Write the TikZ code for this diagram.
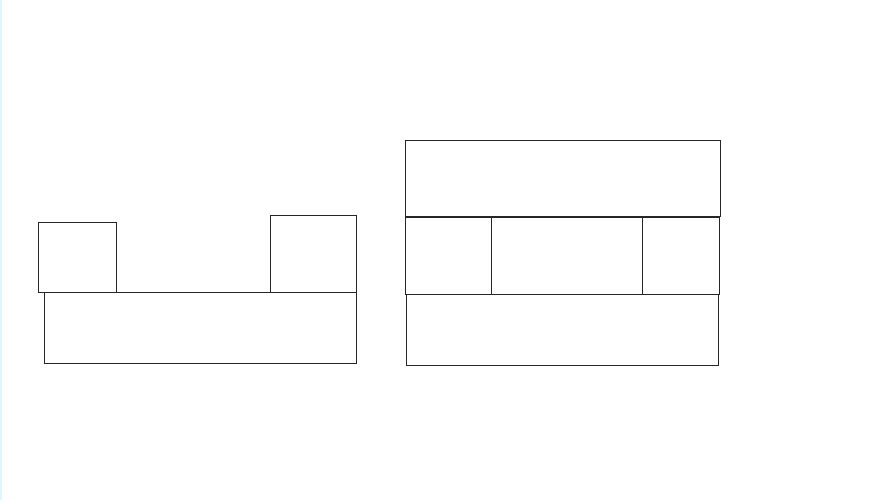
\documentclass[tikz,border=0pt]{standalone}
\usepackage{tikz}

\begin{document}
\begin{tikzpicture}[x=1pt, y=-1pt, block/.style={draw=black!85, line width=.8pt}]
		\useasboundingbox (0,0) rectangle (877,500);
		\draw[cyan!12, line width=2pt] (1,0) -- (1,500);
			\draw[block] (44.3,292.3) rectangle (356.7,363.3);
			\draw[block] (38.3,222.3) rectangle (116.7,292.3);
			\draw[block] (270,215.3) rectangle (356.7,292.3);
				\draw[block] (405.7,140.3) rectangle (720.3,216.7);
				\draw[block] (405.7,217.3) rectangle (719.3,294);
				\draw[block] (405.7,216.3) rectangle (491.7,294);
				\draw[block] (642.3,217.7) rectangle (719.3,294);
				\draw[block] (406.3,294) rectangle (718.7,365.7);
	\end{tikzpicture}
\end{document}
